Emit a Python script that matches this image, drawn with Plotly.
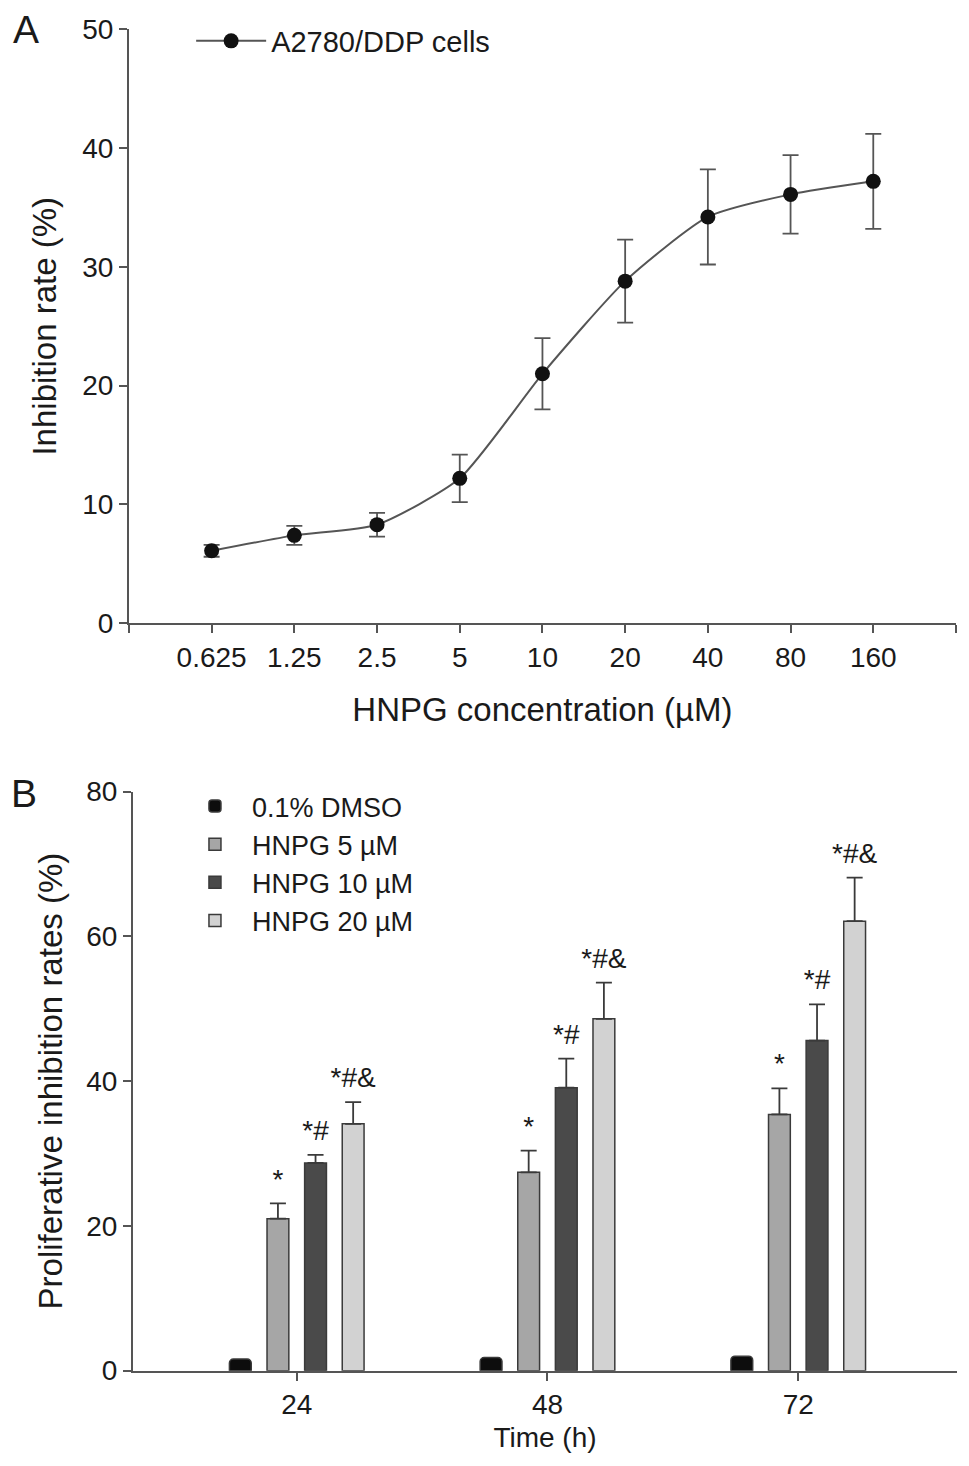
import plotly.graph_objects as go

# --- Panel A: dose response ---
conc = [0.625, 1.25, 2.5, 5, 10, 20, 40, 80, 160]
conc_labels = ["0.625", "1.25", "2.5", "5", "10", "20", "40", "80", "160"]
inhibition = [6.1, 7.4, 8.3, 12.2, 21.0, 28.8, 34.2, 36.1, 37.2]
inhibition_sd = [0.5, 0.8, 1.0, 2.0, 3.0, 3.5, 4.0, 3.3, 4.0]

# --- Panel B: time course ---
times = ["24", "48", "72"]
groups = ["0.1% DMSO", "HNPG 5 µM", "HNPG 10 µM", "HNPG 20 µM"]
dmso = [1.6, 1.8, 2.0]
hnpg5 = [21.0, 27.4, 35.4]
hnpg10 = [28.7, 39.1, 45.6]
hnpg20 = [34.1, 48.6, 62.1]
dmso_sd = [0, 0, 0]
hnpg5_sd = [2.1, 3.0, 3.6]
hnpg10_sd = [1.1, 4.0, 5.0]
hnpg20_sd = [3.0, 5.0, 6.0]
dmso_marks = ["", "", ""]
hnpg5_marks = ["*", "*", "*"]
hnpg10_marks = ["*#", "*#", "*#"]
hnpg20_marks = ["*#&", "*#&", "*#&"]
bar_colors = ["#0d0d0d", "#a6a6a6", "#4a4a4a", "#d2d2d2"]

FONT = "Arial, Liberation Sans, sans-serif"
TXT = "#1a1a1a"
AX = "#555555"

fig = go.Figure()

fig.add_trace(go.Scatter(
    x=conc, y=inhibition, mode="lines+markers", name="A2780/DDP cells",
    line=dict(color=AX, width=2, shape="spline", smoothing=0.6),
    marker=dict(color="#111111", size=15),
    error_y=dict(type="data", array=inhibition_sd, color=AX, thickness=1.8, width=8),
    xaxis="x", yaxis="y", legend="legend",
))

series = zip(groups, [dmso, hnpg5, hnpg10, hnpg20],
             [dmso_sd, hnpg5_sd, hnpg10_sd, hnpg20_sd],
             [dmso_marks, hnpg5_marks, hnpg10_marks, hnpg20_marks], bar_colors)
for name, vals, sd, marks, color in series:
    fig.add_trace(go.Bar(
        x=times, y=vals, name=name, offsetgroup=name,
        marker=dict(color=color, line=dict(color="#3a3a3a", width=1.5),
                    cornerradius=4 if name == groups[0] else 0),
        error_y=dict(type="data", array=sd, arrayminus=[0] * len(sd), symmetric=False,
                     color="#3a3a3a", thickness=1.8, width=8, visible=any(sd)),
        xaxis="x2", yaxis="y2", legend="legend2",
    ))
    # significance marks sit on top of each error bar (hidden marker just pads the text)
    fig.add_trace(go.Scatter(
        x=times, y=[v + s for v, s in zip(vals, sd)], mode="markers+text", text=marks,
        textposition="top center", textfont=dict(size=28, color=TXT, family=FONT),
        marker=dict(size=11, opacity=0), hoverinfo="skip",
        offsetgroup=name, showlegend=False, cliponaxis=False,
        xaxis="x2", yaxis="y2",
    ))

axis_common = dict(
    showline=True, linecolor=AX, linewidth=2, ticks="outside", ticklen=8,
    tickwidth=1.8, tickcolor=AX, showgrid=False, zeroline=False, automargin=False,
    tickfont=dict(size=28, color=TXT, family=FONT),
)

fig.update_layout(
    width=969, height=1466,
    margin=dict(l=0, r=0, t=0, b=0, autoexpand=False),
    paper_bgcolor="white", plot_bgcolor="white",
    font=dict(family=FONT, color=TXT),
    barmode="group", bargap=0.4, bargroupgap=0.42,
    scattermode="group", scattergap=0.4,
    xaxis=dict(
        axis_common, type="log", domain=[0.1248, 0.9783], anchor="y",
        range=[-0.50515, 2.50515],
        tickvals=[conc[0] / 2] + conc + [conc[-1] * 2],
        ticktext=[""] + conc_labels + [""],
        title=dict(text="HNPG concentration (µM)", font=dict(size=33), standoff=26),
    ),
    yaxis=dict(
        axis_common, domain=[0.5803, 0.9855], anchor="x", range=[0, 50], dtick=10,
        title=dict(text="Inhibition rate (%)", font=dict(size=33), standoff=16),
    ),
    xaxis2=dict(
        axis_common, type="category", domain=[0.1290, 0.9793], anchor="y2",
        range=[-0.653, 2.633],
        title=dict(text="Time (h)", font=dict(size=28), standoff=8),
    ),
    yaxis2=dict(
        axis_common, domain=[0.0705, 0.4655], anchor="x2", range=[0, 80], dtick=20,
        title=dict(text="Proliferative inhibition rates (%)", font=dict(size=33), standoff=14),
    ),
    legend=dict(x=0.189, y=0.9775, xanchor="left", yanchor="middle", itemwidth=70,
                font=dict(size=29, color=TXT), bgcolor="rgba(0,0,0,0)"),
    legend2=dict(x=0.1754, y=0.4164, xanchor="left", yanchor="middle", itemwidth=64,
                 font=dict(size=27, color=TXT), bgcolor="rgba(0,0,0,0)",
                 tracegroupgap=0),
    annotations=[
        dict(text="A", x=0.0185, y=0.9855, xref="paper", yref="paper",
             xanchor="center", yanchor="middle",
             showarrow=False, font=dict(size=39, color=TXT)),
        dict(text="B", x=0.0163, y=0.4645, xref="paper", yref="paper",
             xanchor="center", yanchor="middle",
             showarrow=False, font=dict(size=39, color=TXT)),
    ],
)

fig.write_html("out.html")
